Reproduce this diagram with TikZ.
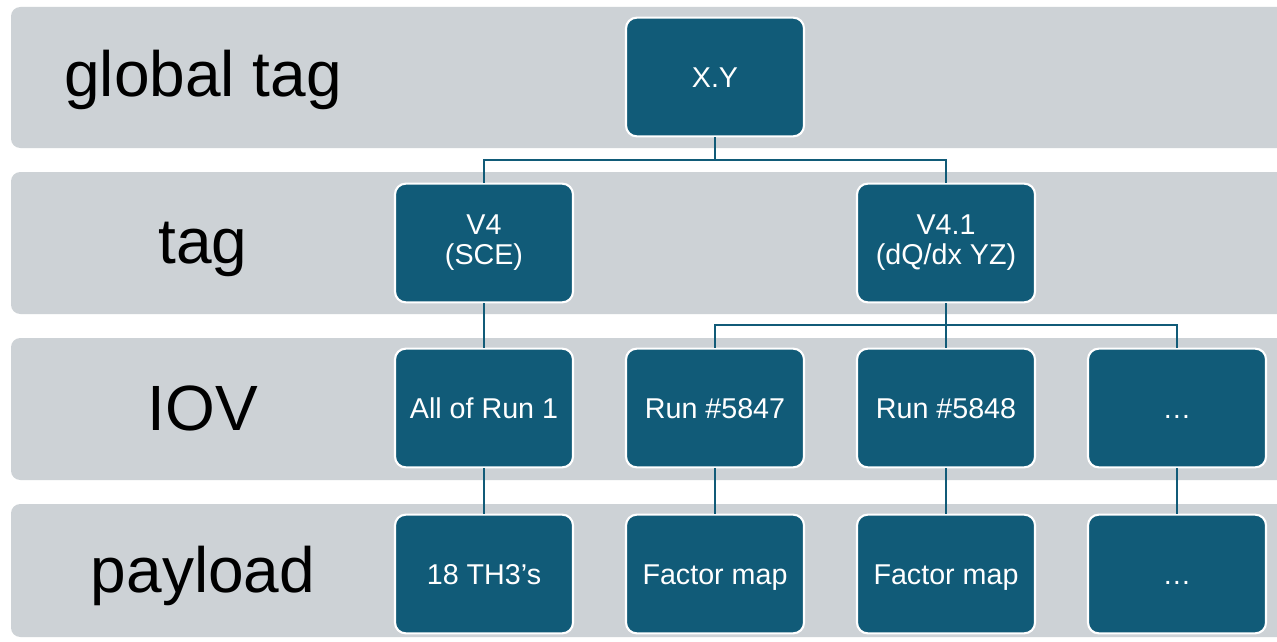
\documentclass[tikz,border=0pt]{standalone}
\usepackage{fontspec}
\setmainfont{Liberation Sans}
\definecolor{band}{HTML}{CDD2D6}
\definecolor{teal}{HTML}{115B78}
\begin{document}
\begin{tikzpicture}[x=0.75pt,y=-0.75pt,
  bandbox/.style={fill=band, draw=none, rounded corners=7pt},
  rowlabel/.style={font=\fontsize{48}{52}\selectfont, text=black, anchor=center},
  item/.style={fill=teal, draw=white, line width=1.6pt, rounded corners=8pt,
    minimum width=133.5pt, minimum height=89pt, inner sep=0pt, text=white,
    align=center, font=\fontsize{21.5}{22.5}\selectfont},
  one/.style={text height=15.4pt, text depth=0pt},
  link/.style={draw=teal, line width=1.6pt}]
\useasboundingbox (0,0) rectangle (1277,642);
\fill[white] (0,0) rectangle (1277,642);
% bands
\path[bandbox] (11,7) rectangle (1300,148);
\path[bandbox] (11,172) rectangle (1300,314);
\path[bandbox] (11,338) rectangle (1300,480);
\path[bandbox] (11,504) rectangle (1300,637);
% row labels
\node[rowlabel] (lg) at (203,80) {global tag};
\node[rowlabel] (lt) at (203,249) {tag};
\node[rowlabel] (li) at (203,408) {IOV};
\node[rowlabel] (lp) at (203,576) {payload};
% boxes
\node[item,one] (xy) at (715,77) {X.Y};
\node[item] (v4) at (484,243) {V4\\(SCE)};
\node[item] (v41) at (946,243) {V4.1\\(dQ/dx YZ)};
\node[item,one] (i1) at (484,408) {All of Run 1};
\node[item,one] (i2) at (715,408) {Run \#5847};
\node[item,one] (i3) at (946,408) {Run \#5848};
\node[item,one] (i4) at (1177,408) {…};
\node[item,one] (p1) at (484,574) {18 TH3’s};
\node[item,one] (p2) at (715,574) {Factor map};
\node[item,one] (p3) at (946,574) {Factor map};
\node[item,one] (p4) at (1177,574) {…};
% connectors
\coordinate (j1) at (715,160);
\coordinate (j2) at (946,325);
\draw[link] (xy.south) -- (j1);
\draw[link] (j1) -| (v4.north);
\draw[link] (j1) -| (v41.north);
\draw[link] (v4.south) -- (i1.north);
\draw[link] (v41.south) -- (j2);
\draw[link] (j2) -| (i2.north);
\draw[link] (j2) -| (i3.north);
\draw[link] (j2) -| (i4.north);
\draw[link] (i1.south) -- (p1.north);
\draw[link] (i2.south) -- (p2.north);
\draw[link] (i3.south) -- (p3.north);
\draw[link] (i4.south) -- (p4.north);
\end{tikzpicture}
\end{document}
